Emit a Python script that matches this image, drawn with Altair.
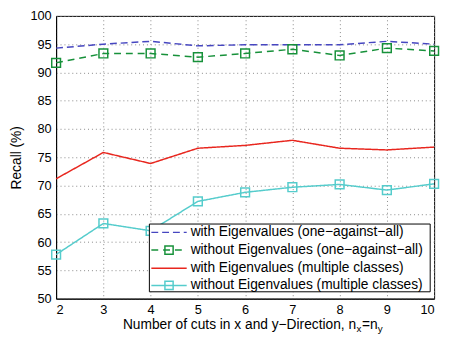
import altair as alt
import pandas as pd

cuts = [2, 3, 4, 5, 6, 7, 8, 9, 10]
with_ev_oaa = [94.3, 95.0, 95.5, 94.7, 94.9, 94.9, 94.9, 95.5, 95.0]
without_ev_oaa = [91.7, 93.35, 93.35, 92.7, 93.35, 94.1, 93.0, 94.3, 93.8]
with_ev_mc = [71.2, 75.85, 73.9, 76.6, 77.1, 78.0, 76.6, 76.3, 76.8]
without_ev_mc = [57.8, 63.3, 62.0, 67.2, 68.8, 69.7, 70.2, 69.2, 70.3]
y_ticks = [50, 55, 60, 65, 70, 75, 80, 85, 90, 95, 100]

series_names = [
    "with Eigenvalues (one\u2212against\u2212all)",
    "without Eigenvalues (one\u2212against\u2212all)",
    "with Eigenvalues (multiple classes)",
    "without Eigenvalues (multiple classes)",
]
series_values = [with_ev_oaa, without_ev_oaa, with_ev_mc, without_ev_mc]
colors = ["#4646c0", "#17913a", "#e8261e", "#55cccc"]
dashes = [[7, 4], [7, 5], [1, 0], [1, 0]]
has_marker = [False, True, False, True]

FONT = "Liberation Sans"
W, H = 385, 288

xs = alt.Scale(domain=[2, 10], nice=False, zero=False)
ys = alt.Scale(domain=[50, 100], nice=False, zero=False)
xax = alt.Axis(values=cuts, title=None, format="d", labelOverlap=False, tickCount=9)
yax = alt.Axis(values=y_ticks, title="Recall (%)", labelOverlap=False, tickCount=11)

rows = []
for name, vals in zip(series_names, series_values):
    for c, v in zip(cuts, vals):
        rows.append({"cuts": c, "recall": v, "series": name})
data = pd.DataFrame(rows)

layers = []
for i, name in enumerate(series_names):
    base = alt.Chart(data).transform_filter(alt.datum.series == name)
    line = base.mark_line(color=colors[i], strokeWidth=1.5, strokeDash=dashes[i]).encode(
        x=alt.X("cuts:Q", scale=xs, axis=xax),
        y=alt.Y("recall:Q", scale=ys, axis=yax),
    )
    layers.append(line)
    if has_marker[i]:
        pts = base.mark_point(shape="square", filled=False, color=colors[i],
                              size=80, strokeWidth=1.5, opacity=1).encode(
            x=alt.X("cuts:Q", scale=xs, axis=xax), y=alt.Y("recall:Q", scale=ys, axis=yax))
        layers.append(pts)

# Legend (drawn by hand to mimic the MATLAB legend glyphs)
row_y = [220.5, 238.5, 257, 274.5]
dummy = pd.DataFrame({"k": [0]})
box = alt.Chart(dummy).mark_rect(fill="white", stroke="black", strokeWidth=1).encode(
    x=alt.value(95), x2=alt.value(381), y=alt.value(212), y2=alt.value(281))
layers.append(box)
for i in range(4):
    sub = pd.DataFrame({"name": [series_names[i]]})
    r = alt.Chart(sub).mark_rule(color=colors[i], strokeWidth=1.5, strokeDash=dashes[i]).encode(
        x=alt.value(97), x2=alt.value(133), y=alt.value(row_y[i]))
    layers.append(r)
    if has_marker[i]:
        m = alt.Chart(sub).mark_point(shape="square", filled=False, color=colors[i],
                                      size=70, strokeWidth=1.5, opacity=1).encode(
            x=alt.value(115), y=alt.value(row_y[i]))
        layers.append(m)
    t = alt.Chart(sub).mark_text(align="left", baseline="middle", font=FONT, fontSize=14,
                                 color="black").encode(
        x=alt.value(137), y=alt.value(row_y[i]), text="name:N")
    layers.append(t)

# X-axis title with subscripts
title_parts = [
    ("Number of cuts in x and y\u2212Direction, n", 68, 315, 14),
    ("x", 306, 319, 10),
    ("=n", 311.5, 315, 14),
    ("y", 327.5, 319, 10),
]
for t, px, py, fs in title_parts:
    tdf = pd.DataFrame({"t": [t]})
    layers.append(alt.Chart(tdf).mark_text(align="left", baseline="middle", font=FONT,
                                            fontSize=fs, color="black").encode(
        x=alt.value(px), y=alt.value(py), text="t:N"))

chart = alt.layer(*layers).properties(
    width=W, height=H,
    autosize=alt.AutoSizeParams(type="none"),
    padding={"left": 49, "top": 5, "right": 7, "bottom": 35},
).configure_view(stroke="black", strokeWidth=1).configure_axis(
    grid=True, gridColor="#888888", gridDash=[1, 3], gridWidth=1,
    domainColor="black", tickColor="black", tickSize=0,
    labelFont=FONT, labelFontSize=13, labelColor="black",
    titleFont=FONT, titleFontSize=14, titleColor="black", titleFontWeight="normal",
).configure_axisY(labelPadding=5, titlePadding=7).configure_axisX(labelPadding=5)

chart.save("out.html", embed_options={"renderer": "svg", "actions": False})
